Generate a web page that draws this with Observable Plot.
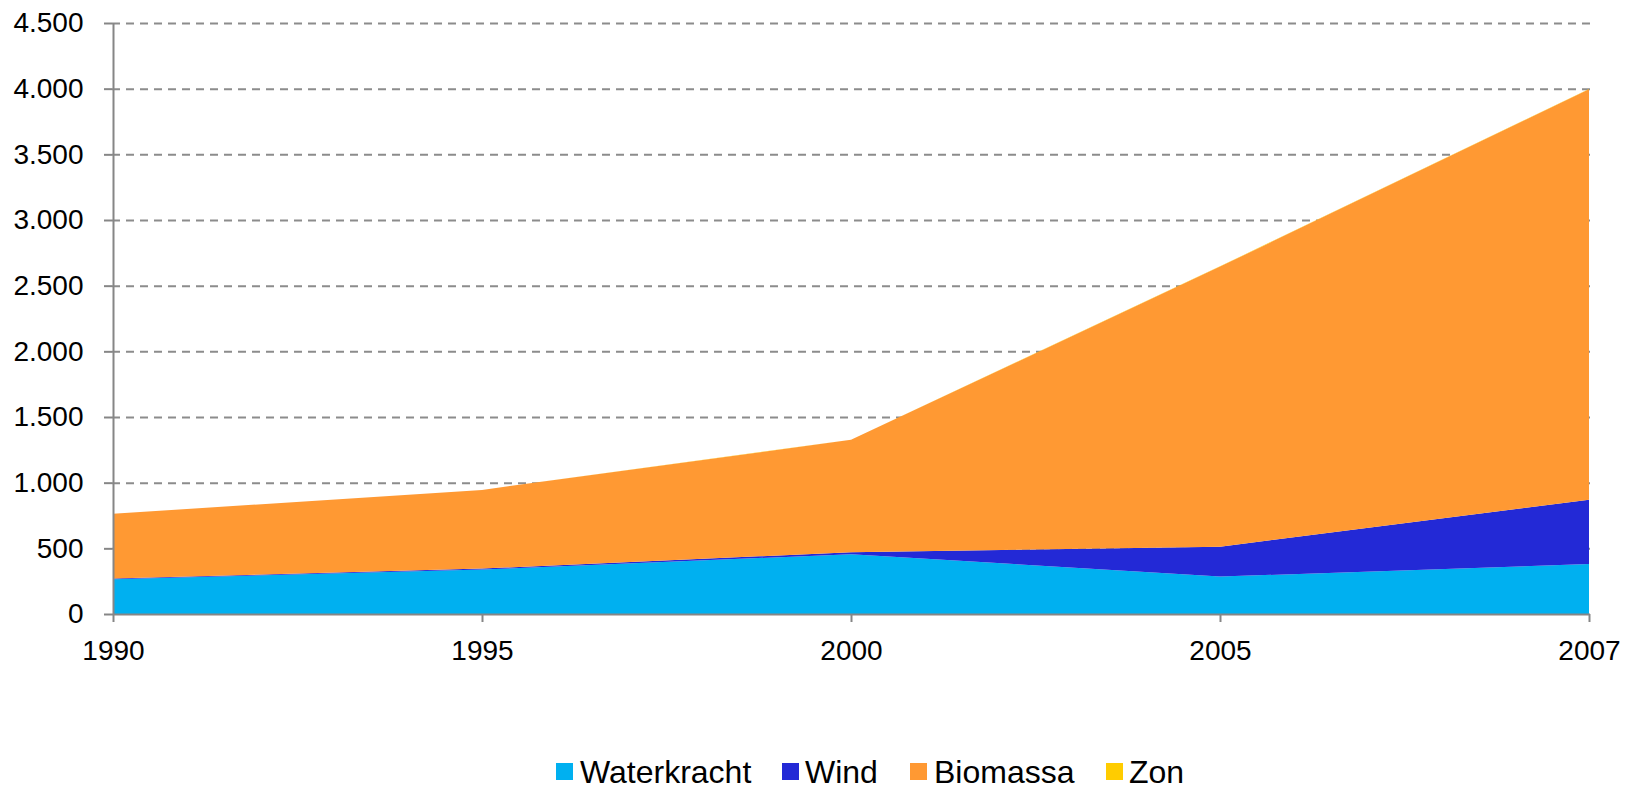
<!DOCTYPE html>
<html>
<head>
<meta charset="utf-8">
<script src="https://cdn.jsdelivr.net/npm/d3@7"></script>
<script src="https://cdn.jsdelivr.net/npm/@observablehq/plot@0.6"></script>
<style>
  html, body { margin: 0; padding: 0; background: #fff; }
  #wrap { position: relative; width: 1628px; height: 787px; font-family: "Liberation Sans", Arial, sans-serif; }
  #legend { position: relative; width: 1628px; height: 87px; }
  .item { position: absolute; top: 0; height: 87px; }
  .sw { position: absolute; top: 63px; width: 17px; height: 17px; }
  .lt { position: absolute; top: 54px; font-size: 32px; line-height: 36px; color: #000; white-space: nowrap; }
</style>
</head>
<body>
<div id="wrap"><div id="chart"></div><div id="legend"></div></div>
<script>
const years = ["1990", "1995", "2000", "2005", "2007"];
const seriesNames = ["Waterkracht", "Wind", "Biomassa", "Zon"];
const waterkracht = [265, 338, 455, 285, 380];
const wind = [5, 8, 15, 228, 490];
const biomassa = [493, 599, 856, 2132, 3125];
const zon = [0, 0, 1, 2, 3];
const seriesColors = ["#00B0F0", "#2329D6", "#FF9933", "#FFCC00"];
const yTicks = [0, 500, 1000, 1500, 2000, 2500, 3000, 3500, 4000, 4500];

const seriesValues = [waterkracht, wind, biomassa, zon];
const data = [];
seriesNames.forEach((s, i) => {
  years.forEach((y, j) => data.push({ year: y, series: s, value: seriesValues[i][j] }));
});

const nl = d3.formatLocale({ decimal: ",", thousands: ".", grouping: [3], currency: ["€", ""] });
const fmt = nl.format(",d");

const chart = Plot.plot({
  width: 1628,
  height: 700,
  marginLeft: 112,
  marginRight: 38,
  marginTop: 23,
  marginBottom: 86,
  style: { fontFamily: "'Liberation Sans', Arial, sans-serif", fontSize: "28px", color: "#000", background: "#fff" },
  x: { type: "point", domain: years, padding: 0 },
  y: { domain: [0, 4500] },
  color: { domain: seriesNames, range: seriesColors },
  marks: [
    Plot.ruleY(yTicks.filter(d => d > 0), { stroke: "#8c8c8c", strokeWidth: 2, strokeDasharray: "8,6" }),
    Plot.areaY(data, { x: "year", y: "value", fill: "series", order: seriesNames }),
    Plot.ruleY([0], { stroke: "#868686", strokeWidth: 2 }),
    Plot.ruleX([years[0]], { stroke: "#868686", strokeWidth: 2 }),
    Plot.axisY({ ticks: yTicks, tickSize: 8, tickPadding: 21, tickFormat: fmt, stroke: "#868686", strokeWidth: 2, label: null, fill: "#000" }),
    Plot.axisX({ tickSize: 8, tickPadding: 18, label: null, stroke: "#868686", strokeWidth: 2, fill: "#000" })
  ]
});
document.getElementById("chart").appendChild(chart);

const legendPos = [[556, 580], [782, 805], [910, 934], [1106, 1129]];
const legend = document.getElementById("legend");
seriesNames.forEach((s, i) => {
  const sw = document.createElement("div");
  sw.className = "sw";
  sw.style.left = legendPos[i][0] + "px";
  sw.style.background = seriesColors[i];
  legend.appendChild(sw);
  const t = document.createElement("div");
  t.className = "lt";
  t.style.left = legendPos[i][1] + "px";
  t.textContent = s;
  legend.appendChild(t);
});
</script>
</body>
</html>
